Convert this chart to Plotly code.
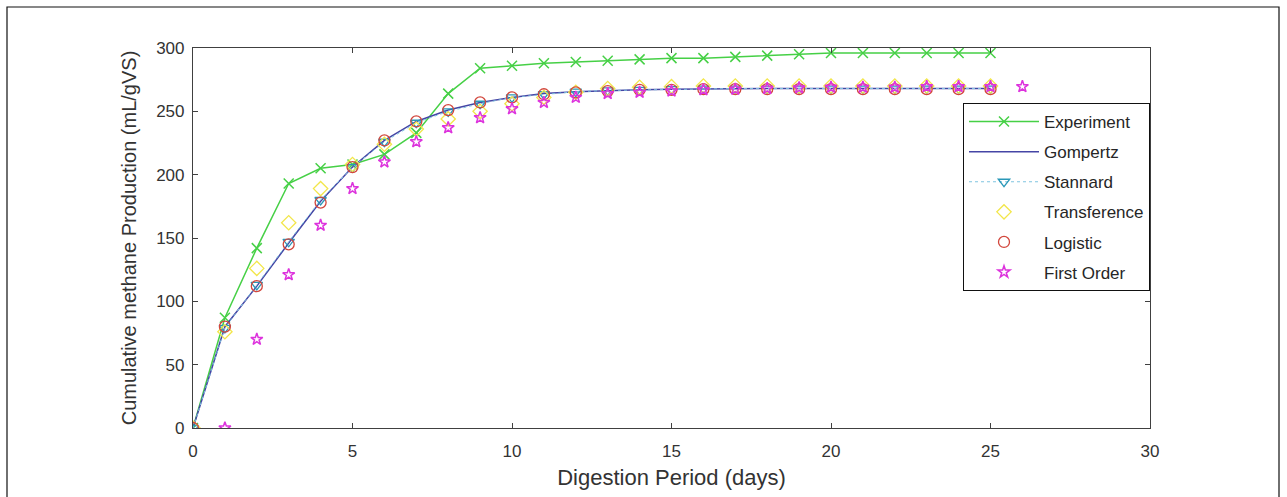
import plotly.graph_objects as go

days = list(range(0, 26))
experiment = [0, 87, 142, 193, 205, 208, 216, 233, 264, 284, 286, 288, 289, 290, 291, 292, 292,
              293, 294, 295, 296, 296, 296, 296, 296, 296]
gompertz = [0, 80, 112, 146, 179, 206, 227, 242, 251, 257, 261, 264, 265.5, 266.5, 267, 267.5,
            267.8, 268, 268, 268, 268, 268, 268, 268, 268, 268]
stannard = [0, 79, 113, 147, 180, 206, 226, 241, 250, 256, 261, 263.5, 265.5, 266.5, 267, 267.5,
            268, 268, 268, 268, 268, 268, 268, 268, 268, 268]
transference = [0, 76, 126, 162, 189, 208, 224, 236, 244, 250, 256, 261, 265, 268, 269, 269.5,
                270, 270, 270, 270, 270, 270, 270, 270, 270, 270]
logistic = [0, 80, 112, 145, 178, 206, 227, 242, 251, 257, 261, 263.5, 265, 266, 267, 267,
            267.5, 267.5, 267.5, 267.5, 267.5, 267.5, 267.5, 267.5, 267.5, 267.5]
first_order_days = list(range(1, 27))
first_order = [0, 70, 121, 160, 189, 210, 226, 237, 245, 252, 257, 261, 264, 265, 266, 267,
               267.5, 268, 268.5, 269, 269, 269, 269.5, 269.5, 269.5, 269.5]

x_ticks = [0, 5, 10, 15, 20, 25, 30]
y_ticks = [0, 50, 100, 150, 200, 250, 300]

fig = go.Figure()
fig.add_trace(go.Scatter(x=days, y=experiment, name="Experiment", mode="lines+markers",
                         line=dict(color="#46d046", width=1.5),
                         marker=dict(symbol="x-thin", size=10, line=dict(color="#46d046", width=1.5)),
                         legendgroup="a"))
fig.add_trace(go.Scatter(x=days, y=gompertz, name="Gompertz", mode="lines",
                         line=dict(color="#4545a5", width=1.5), legendgroup="b"))
fig.add_trace(go.Scatter(x=days, y=stannard, name="Stannard", mode="lines+markers",
                         line=dict(color="#7fc4e0", width=1, dash="dot"),
                         marker=dict(symbol="triangle-down-open", size=10, color="#2a98b8",
                                     line=dict(width=1.3)),
                         legendgroup="c"))
fig.add_trace(go.Scatter(x=days, y=transference, name="Transference", mode="markers",
                         marker=dict(symbol="diamond-open", size=11, color="#f2e64a",
                                     line=dict(width=1.3)),
                         legendgroup="d"))
fig.add_trace(go.Scatter(x=days, y=logistic, name="Logistic", mode="markers",
                         marker=dict(symbol="circle-open", size=11, color="#d2463c",
                                     line=dict(width=1.3)),
                         legendgroup="e"))
fig.add_trace(go.Scatter(x=first_order_days, y=first_order, name="First Order", mode="markers",
                         marker=dict(symbol="star-open", size=9, color="#dd33dd",
                                     line=dict(width=1.5)),
                         legendgroup="f"))

axis_common = dict(showline=True, linecolor="#404040", linewidth=1.2, mirror="ticks",
                   ticks="inside", ticklen=5, tickcolor="#404040", showgrid=False,
                   zeroline=False, tickfont=dict(size=17, color="#333333"))

fig.update_xaxes(range=[0, 30], tickvals=x_ticks, ticklabelstandoff=7,
                 title=dict(text="Digestion Period (days)", font=dict(size=22, color="#333333"),
                            standoff=10),
                 **axis_common)
fig.update_yaxes(range=[0, 300], tickvals=y_ticks, ticklabelstandoff=4,
                 title=dict(text="Cumulative methane Production (mL/gVS)",
                            font=dict(size=20, color="#333333"), standoff=14),
                 **axis_common)

pl, pr, pt, pb = 193, 1150, 48, 428
W, H = 1287, 497
def px(v):
    return (v - pl) / (pr - pl)
def py(v):
    return (pb - v) / (pb - pt)

fig.add_shape(type="rect", xref="paper", yref="paper",
              x0=px(7), x1=px(1279), y0=py(505), y1=py(7),
              line=dict(color="#111111", width=1.2), layer="below")

fig.update_layout(
    width=W, height=H,
    margin=dict(l=pl, r=W - pr, t=pt, b=H - pb),
    paper_bgcolor="white", plot_bgcolor="white",
    font=dict(family="Liberation Sans, Arial, sans-serif", color="#333333"),
    showlegend=True,
    legend=dict(x=1, xanchor="right", y=py(103), yanchor="top",
                bgcolor="white", bordercolor="#111111", borderwidth=1,
                font=dict(size=17, color="#262626"), tracegroupgap=5,
                itemwidth=70),
)

fig.write_html("out.html", config={"displayModeBar": False},
               post_script="document.body.style.margin='0';")
